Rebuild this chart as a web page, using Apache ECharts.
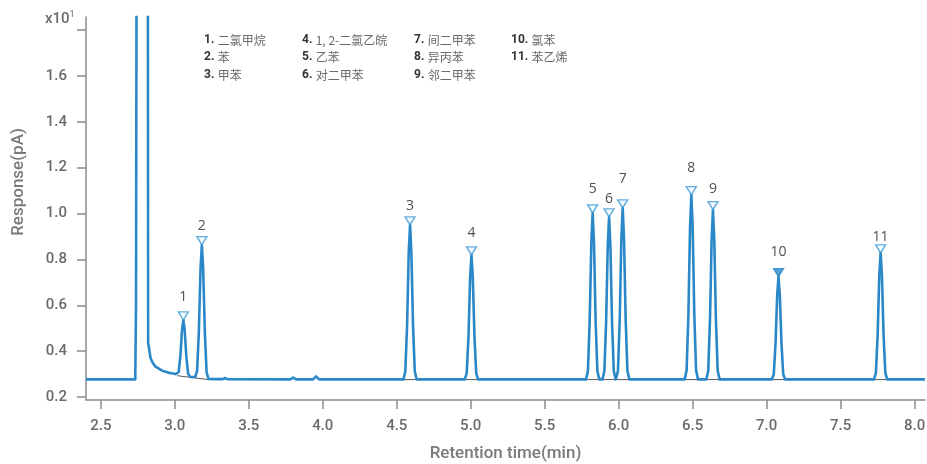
<!DOCTYPE html>
<html><head><meta charset="utf-8">
<script src="https://cdn.jsdelivr.net/npm/echarts@6/dist/echarts.min.js"></script>
<style>html,body{margin:0;padding:0;background:#fff}#c{width:927px;height:464px}</style>
</head><body><div id="c"></div>
<script>
// ---- data ----
const signal = [
 [2.400,0.277],[2.600,0.277],[2.733,0.277],[2.738,0.6],[2.744,3.0],[2.780,8.0],[2.817,3.0],[2.820,0.436],
 [2.824,0.420],[2.836,0.370],[2.850,0.350],[2.870,0.332],[2.915,0.315],[2.960,0.306],[3.005,0.300],
 [3.016,0.297],[3.026,0.308],[3.038,0.380],[3.049,0.493],[3.058,0.536],[3.067,0.491],[3.078,0.376],[3.090,0.302],[3.104,0.288],
 [3.138,0.287],[3.151,0.315],[3.163,0.489],[3.174,0.760],[3.183,0.864],[3.192,0.758],[3.203,0.485],[3.215,0.308],[3.228,0.279],
 [3.260,0.278],[3.325,0.278],[3.340,0.283],[3.355,0.278],[3.780,0.277],[3.800,0.285],[3.820,0.277],[3.935,0.277],[3.955,0.290],[3.975,0.277],
 [4.545,0.277],[4.558,0.311],[4.570,0.513],[4.581,0.830],[4.590,0.951],[4.599,0.830],[4.610,0.513],[4.622,0.311],[4.635,0.277],
 [4.960,0.277],[4.973,0.304],[4.985,0.467],[4.996,0.722],[5.005,0.820],[5.014,0.722],[5.025,0.467],[5.037,0.304],[5.050,0.277],
 [5.779,0.277],[5.792,0.313],[5.804,0.531],[5.815,0.872],[5.824,1.003],[5.833,0.872],[5.844,0.531],[5.856,0.313],[5.869,0.277],
 [5.890,0.277],[5.903,0.312],[5.915,0.525],[5.926,0.858],[5.935,0.986],[5.944,0.858],[5.955,0.525],[5.967,0.312],[5.980,0.277],
 [5.982,0.277],[5.995,0.314],[6.007,0.539],[6.018,0.890],[6.027,1.025],[6.036,0.890],[6.047,0.539],[6.059,0.314],[6.072,0.277],
 [6.446,0.277],[6.459,0.317],[6.471,0.559],[6.482,0.937],[6.491,1.082],[6.500,0.937],[6.511,0.559],[6.523,0.317],[6.536,0.277],
 [6.592,0.277],[6.605,0.314],[6.617,0.536],[6.628,0.884],[6.637,1.017],[6.646,0.884],[6.657,0.536],[6.669,0.314],[6.682,0.277],
 [7.035,0.277],[7.048,0.299],[7.060,0.434],[7.071,0.644],[7.080,0.725],[7.089,0.644],[7.100,0.434],[7.112,0.299],[7.125,0.277],
 [7.725,0.277],[7.738,0.305],[7.750,0.470],[7.761,0.730],[7.770,0.829],[7.779,0.730],[7.790,0.470],[7.802,0.305],[7.815,0.277],
 [8.070,0.277]
];
const peakIds   = ['1','2','3','4','5','6','7','8','9','10','11'];
const peakTimes = [3.058,3.183,4.590,5.005,5.824,5.935,6.027,6.491,6.637,7.080,7.770];
const peakTops  = [0.536,0.864,0.951,0.820,1.003,0.986,1.025,1.082,1.017,0.725,0.829];
const compounds = ['二氯甲烷','苯','甲苯','1, 2-二氯乙皖','乙苯','对二甲苯','间二甲苯','异丙苯','邻二甲苯','氯苯','苯乙烯'];
const integrationBases = [
 [3.016,0.293,3.228,0.276],[4.545,0.276,4.635,0.276],[4.960,0.276,5.050,0.276],
 [5.779,0.276,5.869,0.276],[5.890,0.276,5.980,0.276],[5.982,0.276,6.072,0.276],
 [6.446,0.276,6.536,0.276],[6.592,0.276,6.682,0.276],[7.035,0.276,7.125,0.276],[7.725,0.276,7.815,0.276]
];
const xTicks = [2.5,3.0,3.5,4.0,4.5,5.0,5.5,6.0,6.5,7.0,7.5,8.0];
const yTicks = [0.2,0.4,0.6,0.8,1.0,1.2,1.4,1.6,1.8];
const yLabels = [0.2,0.4,0.6,0.8,1.0,1.2,1.4,1.6];

// ---- styling helpers ----
const BLUE = '#2a88c9';
const MARK = '#3d9ad6';
const AX = '#8c8c8c';
const labelGap = [7,3,3,6,8,2,13,11,5,9,0];
const filledMarker = [false,false,false,false,false,false,false,false,false,true,false];

const baseData = [];
integrationBases.forEach(s => { baseData.push([s[0],s[1]],[s[2],s[3]],[null,null]); });

const markerData = peakTimes.map((t,i) => ({
  value:[t, peakTops[i]],
  itemStyle:{color: filledMarker[i] ? BLUE : '#eef7fd', borderColor: filledMarker[i] ? BLUE : MARK, borderWidth: 1.4},
  label:{distance: labelGap[i]}
}));

// legend graphics
const colX = [204,302,414,511];
const rowY = [40,57,75];
const legendEls = compounds.map((name,i) => {
  const col = Math.floor(i/3), row = i%3;
  return {type:'text', x: colX[col], y: rowY[row], z:10,
    style:{rich:{n:{fontFamily:'Roboto',fontWeight:'bold',fontSize:12,fill:'#333'},
                 t:{fontFamily:'"Noto Sans CJK SC","Noto Sans",sans-serif',fontSize:12,fill:'#6a6a6a'}},
           text:'{n|'+peakIds[i]+'.} {t|'+name+'}', verticalAlign:'middle'}};
});

const chart = echarts.init(document.getElementById('c'), null, {renderer:'canvas'});
chart.setOption({
  animation:false,
  grid:{left:86, right:2, top:17, bottom:64, containLabel:false, outerBoundsMode:'none'},
  xAxis:{type:'value', min:2.4, max:8.07,
    name:'Retention time(min)', nameLocation:'middle', nameGap:45,
    nameTextStyle:{fontFamily:'Roboto',fontSize:17,fontWeight:500,color:'#7a7a7a'},
    axisLine:{show:true,lineStyle:{color:AX,width:1.5}},
    axisTick:{show:true,length:9,lineStyle:{color:AX,width:1.5},customValues:xTicks},
    axisLabel:{customValues:xTicks,margin:19,fontFamily:'Roboto',fontSize:15,fontWeight:500,color:'#6a6a6a',
      formatter:v=>v.toFixed(1)},
    splitLine:{show:false}},
  yAxis:{type:'value', min:0.187, max:1.857,
    axisLine:{show:true,lineStyle:{color:AX,width:1.5}},
    axisTick:{show:true,length:9,lineStyle:{color:AX,width:1.5},customValues:yTicks},
    axisLabel:{customValues:yLabels,margin:19,fontFamily:'Roboto',fontSize:15,fontWeight:500,color:'#6a6a6a',
      formatter:v=>v.toFixed(1)},
    splitLine:{show:false}},
  graphic:[
    {type:'text', x:45, y:19, style:{rich:{a:{fontFamily:'Roboto',fontSize:15,fontWeight:500,fill:'#6a6a6a'},
       s:{fontFamily:'Roboto',fontSize:9,fill:'#6a6a6a',verticalAlign:'top',padding:[0,0,8,0]}}, text:'{a|x10}{s|1}', verticalAlign:'middle'}},
    {type:'text', x:19, y:182, rotation:Math.PI/2,
      style:{text:'Response(pA)',fontFamily:'Roboto',fontSize:17,fontWeight:500,fill:'#7a7a7a',align:'center',verticalAlign:'middle'}}
  ].concat(legendEls),
  series:[
    {type:'line', data:baseData, symbol:'none', connectNulls:false, z:1,
     lineStyle:{color:'#555',width:1}, silent:true},
    {type:'line', data:signal, symbol:'none', z:2, clip:true,
     lineStyle:{color:BLUE,width:2.6,join:'round'}, silent:true},
    {type:'scatter', data:markerData, z:3,
     symbol:'path://M0,0L10,0L5,8Z', symbolSize:[10,8], symbolOffset:[0,-4],
     label:{show:true, position:'top', formatter:p=>peakIds[p.dataIndex],
       fontFamily:'"Open Sans",sans-serif', fontSize:14, color:'#222'}}
  ]
});
</script></body></html>
